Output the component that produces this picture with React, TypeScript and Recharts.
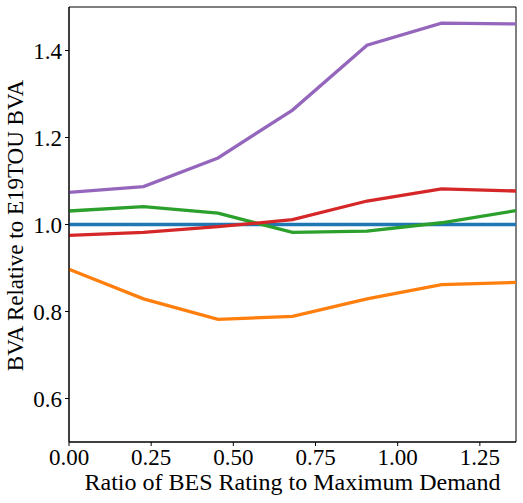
import React from "react";
import {
  LineChart,
  Line,
  XAxis,
  YAxis,
  Label,
  ReferenceArea,
} from "recharts";

const ratios = [0, 0.2267, 0.4533, 0.68, 0.9067, 1.1333, 1.36];
const blueSeries = [1.0, 1.0, 1.0, 1.0, 1.0, 1.0, 1.0];
const orangeSeries = [0.897, 0.829, 0.782, 0.789, 0.829, 0.862, 0.867];
const greenSeries = [1.031, 1.041, 1.026, 0.982, 0.985, 1.004, 1.032];
const redSeries = [0.975, 0.982, 0.995, 1.011, 1.054, 1.082, 1.077];
const purpleSeries = [1.074, 1.087, 1.153, 1.263, 1.412, 1.463, 1.461];
const xTicks = [0, 0.25, 0.5, 0.75, 1.0, 1.25];
const yTicks = [0.6, 0.8, 1.0, 1.2, 1.4];

const data = ratios.map((r, i) => ({
  r,
  blue: blueSeries[i],
  orange: orangeSeries[i],
  green: greenSeries[i],
  red: redSeries[i],
  purple: purpleSeries[i],
}));

const font = "Liberation Serif";
const fontSize = 23;

const series = [
  { key: "blue", color: "#1f77b4" },
  { key: "orange", color: "#ff7f0e" },
  { key: "green", color: "#2ca02c" },
  { key: "red", color: "#d62728" },
  { key: "purple", color: "#9467bd" },
];

const XTick = (props: any) => {
  const { x, y, payload } = props;
  return (
    <text x={x} y={y + 465 - 442 - 4} textAnchor="middle" fill="#000" fontSize={fontSize} fontFamily={font}>
      {Number(payload.value).toFixed(2)}
    </text>
  );
};

const YTick = (props: any) => {
  const { x, y, payload } = props;
  return (
    <text x={x} y={y + 8} textAnchor="end" fill="#000" fontSize={fontSize} fontFamily={font}>
      {Number(payload.value).toFixed(1)}
    </text>
  );
};

// axis titles drawn by hand so the baseline sits where matplotlib put it
const XTitle = () => (
  <text x={292.5} y={490} textAnchor="middle" fill="#000" fontSize={24} fontFamily={font}>
    Ratio of BES Rating to Maximum Demand
  </text>
);

const YTitle = () => (
  <text
    x={225.5}
    y={0}
    transform="translate(23, 0) rotate(-90) translate(-451, 0)"
    textAnchor="middle"
    fill="#000"
    fontSize={fontSize}
    fontFamily={font}
  >
    BVA Relative to E19TOU BVA
  </text>
);

export default function App() {
  return (
    <div style={{ position: "absolute", left: 0, top: 0, background: "#fff", fontFamily: font }}>
      <LineChart
        width={523}
        height={503}
        data={data}
        margin={{ top: 7, right: 7, bottom: 0, left: 0 }}
      >
        <XAxis
          dataKey="r"
          type="number"
          domain={[0, 1.36]}
          ticks={xTicks}
          height={61}
          tick={<XTick />}
          tickSize={4}
          tickMargin={0}
          stroke="#000"
          tickLine={{ stroke: "#000" }}
        >
          <Label content={<XTitle />} />
        </XAxis>
        <YAxis
          type="number"
          domain={[0.5, 1.5]}
          ticks={yTicks}
          width={69}
          tick={<YTick />}
          tickSize={4}
          tickMargin={3}
          stroke="#000"
          tickLine={{ stroke: "#000" }}
        >
          <Label content={<YTitle />} />
        </YAxis>
        {series.map((s) => (
          <Line
            key={s.key}
            dataKey={s.key}
            stroke={s.color}
            strokeWidth={3.3}
            dot={false}
            activeDot={false}
            isAnimationActive={false}
          />
        ))}
        <ReferenceArea
          x1={0}
          x2={1.36}
          y1={0.5}
          y2={1.5}
          fill="none"
          stroke="#000"
          strokeWidth={1}
          fillOpacity={0}
        />
      </LineChart>
    </div>
  );
}
